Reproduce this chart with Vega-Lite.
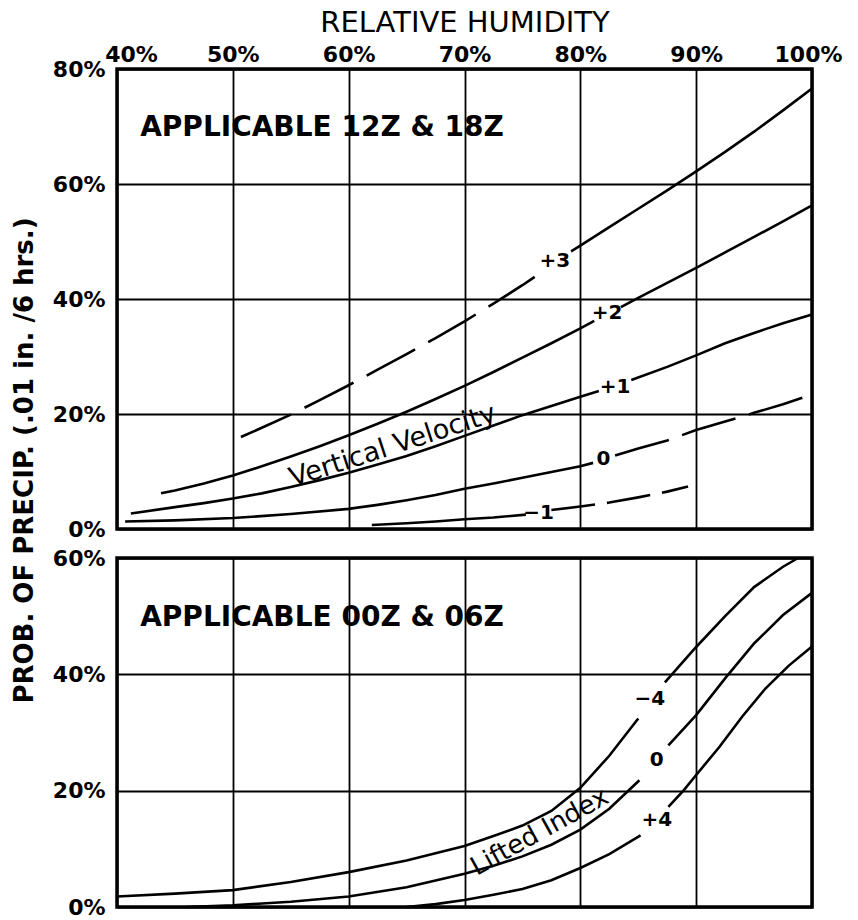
{
  "$schema": "https://vega.github.io/schema/vega-lite/v6.json",
  "background": "white",
  "padding": {"left": 9, "top": 6, "right": 10, "bottom": 2},
  "bounds": "flush",
  "spacing": 29,
  "config": {
    "view": {"stroke": "black", "strokeWidth": 3.5},
    "axis": {
      "domain": false, "ticks": false, "grid": true,
      "gridColor": "black", "gridOpacity": 1, "gridWidth": 1.8,
      "labelFont": "DejaVu Sans", "labelFontWeight": "bold", "labelFontSize": 22, "labelColor": "black",
      "titleFont": "DejaVu Sans", "titleColor": "black", "labelOverlap": false
    },
    "line": {"color": "black", "strokeWidth": 2.6},
    "text": {"font": "DejaVu Sans", "color": "black"}
  },
  "datasets": {
    "vv": [
      {"seg": "+3 low", "rh": 50.7, "p": 16.0}, {"seg": "+3 low", "rh": 52.5, "p": 17.6}, {"seg": "+3 low", "rh": 55, "p": 19.9}, {"seg": "+3 low", "rh": 57.5, "p": 22.4}, {"seg": "+3 low", "rh": 60, "p": 25.0}, {"seg": "+3 low", "rh": 62.5, "p": 27.7}, {"seg": "+3 low", "rh": 65, "p": 30.4}, {"seg": "+3 low", "rh": 67.5, "p": 33.2}, {"seg": "+3 low", "rh": 70, "p": 36.1}, {"seg": "+3 low", "rh": 72.5, "p": 39.2}, {"seg": "+3 low", "rh": 75, "p": 42.4}, {"seg": "+3 low", "rh": 76.6, "p": 44.6},
      {"seg": "+3 high", "rh": 79.2, "p": 48.3}, {"seg": "+3 high", "rh": 80, "p": 49.3}, {"seg": "+3 high", "rh": 82.5, "p": 52.5}, {"seg": "+3 high", "rh": 85, "p": 55.7}, {"seg": "+3 high", "rh": 87.5, "p": 58.9}, {"seg": "+3 high", "rh": 90, "p": 62.2}, {"seg": "+3 high", "rh": 92.5, "p": 65.6}, {"seg": "+3 high", "rh": 95, "p": 69.1}, {"seg": "+3 high", "rh": 97.5, "p": 72.8}, {"seg": "+3 high", "rh": 100, "p": 76.6},
      {"seg": "+2 low", "rh": 43.8, "p": 6.2}, {"seg": "+2 low", "rh": 45, "p": 6.7}, {"seg": "+2 low", "rh": 47.5, "p": 7.9}, {"seg": "+2 low", "rh": 50, "p": 9.3}, {"seg": "+2 low", "rh": 52.5, "p": 10.9}, {"seg": "+2 low", "rh": 55, "p": 12.6}, {"seg": "+2 low", "rh": 57.5, "p": 14.4}, {"seg": "+2 low", "rh": 60, "p": 16.3}, {"seg": "+2 low", "rh": 62.5, "p": 18.3}, {"seg": "+2 low", "rh": 65, "p": 20.4}, {"seg": "+2 low", "rh": 67.5, "p": 22.6}, {"seg": "+2 low", "rh": 70, "p": 24.9}, {"seg": "+2 low", "rh": 72.5, "p": 27.3}, {"seg": "+2 low", "rh": 75, "p": 29.8}, {"seg": "+2 low", "rh": 77.5, "p": 32.3}, {"seg": "+2 low", "rh": 80, "p": 34.9}, {"seg": "+2 low", "rh": 81.2, "p": 36.2},
      {"seg": "+2 high", "rh": 83.5, "p": 38.6}, {"seg": "+2 high", "rh": 85, "p": 40.2}, {"seg": "+2 high", "rh": 87.5, "p": 42.8}, {"seg": "+2 high", "rh": 90, "p": 45.4}, {"seg": "+2 high", "rh": 92.5, "p": 48.1}, {"seg": "+2 high", "rh": 95, "p": 50.8}, {"seg": "+2 high", "rh": 97.5, "p": 53.5}, {"seg": "+2 high", "rh": 100, "p": 56.3},
      {"seg": "+1 low", "rh": 41.2, "p": 2.7}, {"seg": "+1 low", "rh": 45, "p": 3.8}, {"seg": "+1 low", "rh": 47.5, "p": 4.5}, {"seg": "+1 low", "rh": 50, "p": 5.3}, {"seg": "+1 low", "rh": 52.5, "p": 6.2}, {"seg": "+1 low", "rh": 55, "p": 7.3}, {"seg": "+1 low", "rh": 57.5, "p": 8.5}, {"seg": "+1 low", "rh": 60, "p": 9.8}, {"seg": "+1 low", "rh": 62.5, "p": 11.2}, {"seg": "+1 low", "rh": 65, "p": 12.7}, {"seg": "+1 low", "rh": 67.5, "p": 14.4}, {"seg": "+1 low", "rh": 70, "p": 16.2}, {"seg": "+1 low", "rh": 72.5, "p": 18.0}, {"seg": "+1 low", "rh": 75, "p": 19.8}, {"seg": "+1 low", "rh": 77.5, "p": 21.4}, {"seg": "+1 low", "rh": 80, "p": 23.0}, {"seg": "+1 low", "rh": 81.6, "p": 24.0},
      {"seg": "+1 high", "rh": 84.4, "p": 25.9}, {"seg": "+1 high", "rh": 87.5, "p": 28.2}, {"seg": "+1 high", "rh": 90, "p": 30.2}, {"seg": "+1 high", "rh": 92.5, "p": 32.3}, {"seg": "+1 high", "rh": 95, "p": 34.1}, {"seg": "+1 high", "rh": 97.5, "p": 35.8}, {"seg": "+1 high", "rh": 100, "p": 37.3},
      {"seg": "0 low", "rh": 40.7, "p": 1.3}, {"seg": "0 low", "rh": 45, "p": 1.5}, {"seg": "0 low", "rh": 50, "p": 1.9}, {"seg": "0 low", "rh": 55, "p": 2.6}, {"seg": "0 low", "rh": 60, "p": 3.5}, {"seg": "0 low", "rh": 62.5, "p": 4.2}, {"seg": "0 low", "rh": 65, "p": 5.0}, {"seg": "0 low", "rh": 67.5, "p": 5.9}, {"seg": "0 low", "rh": 70, "p": 7.0}, {"seg": "0 low", "rh": 72.5, "p": 7.9}, {"seg": "0 low", "rh": 75, "p": 8.9}, {"seg": "0 low", "rh": 77.5, "p": 9.9}, {"seg": "0 low", "rh": 80, "p": 10.9}, {"seg": "0 low", "rh": 81.1, "p": 11.5},
      {"seg": "0 high", "rh": 83.0, "p": 12.8}, {"seg": "0 high", "rh": 85, "p": 14.0}, {"seg": "0 high", "rh": 87.5, "p": 15.4}, {"seg": "0 high", "rh": 90, "p": 17.2}, {"seg": "0 high", "rh": 92.5, "p": 18.7}, {"seg": "0 high", "rh": 95, "p": 20.2}, {"seg": "0 high", "rh": 97.5, "p": 21.7}, {"seg": "0 high", "rh": 99.4, "p": 23.0},
      {"seg": "-1 low", "rh": 62, "p": 0.7}, {"seg": "-1 low", "rh": 65, "p": 1.0}, {"seg": "-1 low", "rh": 67.5, "p": 1.3}, {"seg": "-1 low", "rh": 70, "p": 1.7}, {"seg": "-1 low", "rh": 72.5, "p": 2.0}, {"seg": "-1 low", "rh": 75.3, "p": 2.5},
      {"seg": "-1 high", "rh": 77.5, "p": 3.3}, {"seg": "-1 high", "rh": 80, "p": 3.9}, {"seg": "-1 high", "rh": 82.5, "p": 4.6}, {"seg": "-1 high", "rh": 85, "p": 5.5}, {"seg": "-1 high", "rh": 87.5, "p": 6.5}, {"seg": "-1 high", "rh": 89.3, "p": 7.4}
    ],
    "vvText": [
      {"kind": "curve", "label": "+3", "rh": 77.8, "p": 46.6},
      {"kind": "curve", "label": "+2", "rh": 82.3, "p": 37.6},
      {"kind": "curve", "label": "+1", "rh": 83.0, "p": 24.7},
      {"kind": "curve", "label": "0", "rh": 82.0, "p": 12.2},
      {"kind": "curve", "label": "−1", "rh": 76.4, "p": 2.8},
      {"kind": "heading", "label": "APPLICABLE  12Z  &  18Z", "rh": 42.0, "p": 69.7},
      {"kind": "family", "label": "Vertical  Velocity", "rh": 63.8, "p": 14.4}
    ],
    "li": [
      {"seg": "-4 low", "rh": 40, "p": 1.8}, {"seg": "-4 low", "rh": 45, "p": 2.3}, {"seg": "-4 low", "rh": 50, "p": 2.9}, {"seg": "-4 low", "rh": 55, "p": 4.3}, {"seg": "-4 low", "rh": 60, "p": 6.0}, {"seg": "-4 low", "rh": 65, "p": 8.0}, {"seg": "-4 low", "rh": 70, "p": 10.5}, {"seg": "-4 low", "rh": 72.5, "p": 12.2}, {"seg": "-4 low", "rh": 75, "p": 14.0}, {"seg": "-4 low", "rh": 77.5, "p": 16.5}, {"seg": "-4 low", "rh": 80, "p": 20.5}, {"seg": "-4 low", "rh": 82.5, "p": 26.0}, {"seg": "-4 low", "rh": 85, "p": 32.4},
      {"seg": "-4 high", "rh": 87.3, "p": 38.6}, {"seg": "-4 high", "rh": 90, "p": 44.7}, {"seg": "-4 high", "rh": 92.5, "p": 50.0}, {"seg": "-4 high", "rh": 95, "p": 55.0}, {"seg": "-4 high", "rh": 97.5, "p": 58.5}, {"seg": "-4 high", "rh": 98.8, "p": 60.0},
      {"seg": "0 low", "rh": 46, "p": 0.0}, {"seg": "0 low", "rh": 50, "p": 0.3}, {"seg": "0 low", "rh": 55, "p": 0.9}, {"seg": "0 low", "rh": 60, "p": 1.8}, {"seg": "0 low", "rh": 65, "p": 3.4}, {"seg": "0 low", "rh": 70, "p": 5.7}, {"seg": "0 low", "rh": 72.5, "p": 7.1}, {"seg": "0 low", "rh": 75, "p": 8.7}, {"seg": "0 low", "rh": 77.5, "p": 10.7}, {"seg": "0 low", "rh": 80, "p": 13.3}, {"seg": "0 low", "rh": 82.5, "p": 16.9}, {"seg": "0 low", "rh": 85.1, "p": 21.8},
      {"seg": "0 high", "rh": 87.6, "p": 27.8}, {"seg": "0 high", "rh": 90, "p": 33.0}, {"seg": "0 high", "rh": 92.5, "p": 39.3}, {"seg": "0 high", "rh": 95, "p": 45.3}, {"seg": "0 high", "rh": 97.5, "p": 50.2}, {"seg": "0 high", "rh": 100, "p": 54.0},
      {"seg": "+4 low", "rh": 65, "p": 0.0}, {"seg": "+4 low", "rh": 67.5, "p": 0.5}, {"seg": "+4 low", "rh": 70, "p": 1.2}, {"seg": "+4 low", "rh": 72.5, "p": 2.1}, {"seg": "+4 low", "rh": 75, "p": 3.1}, {"seg": "+4 low", "rh": 77.5, "p": 4.6}, {"seg": "+4 low", "rh": 80, "p": 6.7}, {"seg": "+4 low", "rh": 82.5, "p": 9.1}, {"seg": "+4 low", "rh": 85.2, "p": 12.3},
      {"seg": "+4 high", "rh": 87.6, "p": 17.2}, {"seg": "+4 high", "rh": 88.9, "p": 20.0}, {"seg": "+4 high", "rh": 90, "p": 22.7}, {"seg": "+4 high", "rh": 92, "p": 27.5}, {"seg": "+4 high", "rh": 94, "p": 32.8}, {"seg": "+4 high", "rh": 96, "p": 37.6}, {"seg": "+4 high", "rh": 98, "p": 41.5}, {"seg": "+4 high", "rh": 100, "p": 44.8}
    ],
    "liText": [
      {"kind": "curve", "label": "−4", "rh": 86.0, "p": 35.8},
      {"kind": "curve", "label": "0", "rh": 86.6, "p": 25.2},
      {"kind": "curve", "label": "+4", "rh": 86.6, "p": 15.0},
      {"kind": "heading", "label": "APPLICABLE  00Z  &  06Z", "rh": 42.0, "p": 49.7},
      {"kind": "family", "label": "Lifted  Index", "rh": 76.5, "p": 12.9}
    ]
  },
  "vconcat": [
    {
      "width": 695,
      "height": 460,
      "encoding": {
        "x": {
          "field": "rh", "type": "quantitative",
          "scale": {"domain": [40, 100], "nice": false, "zero": false},
          "axis": {
            "orient": "top", "values": [40, 50, 60, 70, 80, 90, 100],
            "labelExpr": "datum.value + '%'", "labelFlush": false, "labelPadding": 3,
            "labelOffset": {"condition": [{"test": "datum.value == 40", "value": 14}, {"test": "datum.value == 100", "value": -4}], "value": 0},
            "title": "RELATIVE  HUMIDITY", "titleFontSize": 29, "titleFontWeight": "normal", "titlePadding": 6
          }
        },
        "y": {
          "field": "p", "type": "quantitative",
          "scale": {"domain": [0, 80], "nice": false, "zero": false},
          "axis": {
            "values": [0, 20, 40, 60, 80], "labelExpr": "datum.value + '%'", "labelPadding": 12,
            "title": "PROB.  OF  PRECIP.  (.01 in.  /6 hrs.)", "titleFontSize": 26, "titleFontWeight": "bold",
            "titleY": 391, "titlePadding": 15
          }
        }
      },
      "layer": [
        {
          "data": {"name": "vv"},
          "transform": [{"filter": {"field": "seg", "oneOf": ["+3 high", "+2 low", "+2 high", "+1 low", "+1 high", "0 low", "-1 low"]}}],
          "mark": {"type": "line"},
          "encoding": {"detail": {"field": "seg"}}
        },
        {
          "data": {"name": "vv"},
          "transform": [{"filter": {"field": "seg", "equal": "+3 low"}}],
          "mark": {"type": "line", "strokeDash": [55, 15]},
          "encoding": {"detail": {"field": "seg"}}
        },
        {
          "data": {"name": "vv"},
          "transform": [{"filter": {"field": "seg", "equal": "0 high"}}],
          "mark": {"type": "line", "strokeDash": [56, 14]},
          "encoding": {"detail": {"field": "seg"}}
        },
        {
          "data": {"name": "vv"},
          "transform": [{"filter": {"field": "seg", "equal": "-1 high"}}],
          "mark": {"type": "line", "strokeDash": [44, 12]},
          "encoding": {"detail": {"field": "seg"}}
        },
        {
          "data": {"name": "vvText"},
          "transform": [{"filter": {"field": "kind", "equal": "curve"}}],
          "mark": {"type": "text", "fontSize": 20, "fontWeight": "bold", "align": "center", "baseline": "middle"},
          "encoding": {"text": {"field": "label"}}
        },
        {
          "data": {"name": "vvText"},
          "transform": [{"filter": {"field": "kind", "equal": "heading"}}],
          "mark": {"type": "text", "fontSize": 28, "fontWeight": "bold", "align": "left", "baseline": "middle"},
          "encoding": {"text": {"field": "label"}}
        },
        {
          "data": {"name": "vvText"},
          "transform": [{"filter": {"field": "kind", "equal": "family"}}],
          "mark": {"type": "text", "fontSize": 27, "fontWeight": "normal", "align": "center", "baseline": "middle", "angle": -18},
          "encoding": {"text": {"field": "label"}}
        }
      ]
    },
    {
      "width": 695,
      "height": 349,
      "encoding": {
        "x": {
          "field": "rh", "type": "quantitative",
          "scale": {"domain": [40, 100], "nice": false, "zero": false},
          "axis": {"orient": "bottom", "values": [40, 50, 60, 70, 80, 90, 100], "labels": false, "title": null}
        },
        "y": {
          "field": "p", "type": "quantitative",
          "scale": {"domain": [0, 60], "nice": false, "zero": false},
          "axis": {"values": [0, 20, 40, 60], "labelExpr": "datum.value + '%'", "labelPadding": 12, "title": null}
        }
      },
      "layer": [
        {
          "data": {"name": "li"},
          "mark": {"type": "line"},
          "encoding": {"detail": {"field": "seg"}}
        },
        {
          "data": {"name": "liText"},
          "transform": [{"filter": {"field": "kind", "equal": "curve"}}],
          "mark": {"type": "text", "fontSize": 20, "fontWeight": "bold", "align": "center", "baseline": "middle"},
          "encoding": {"text": {"field": "label"}}
        },
        {
          "data": {"name": "liText"},
          "transform": [{"filter": {"field": "kind", "equal": "heading"}}],
          "mark": {"type": "text", "fontSize": 28, "fontWeight": "bold", "align": "left", "baseline": "middle"},
          "encoding": {"text": {"field": "label"}}
        },
        {
          "data": {"name": "liText"},
          "transform": [{"filter": {"field": "kind", "equal": "family"}}],
          "mark": {"type": "text", "fontSize": 26, "fontWeight": "normal", "align": "center", "baseline": "middle", "angle": -29},
          "encoding": {"text": {"field": "label"}}
        }
      ]
    }
  ]
}
